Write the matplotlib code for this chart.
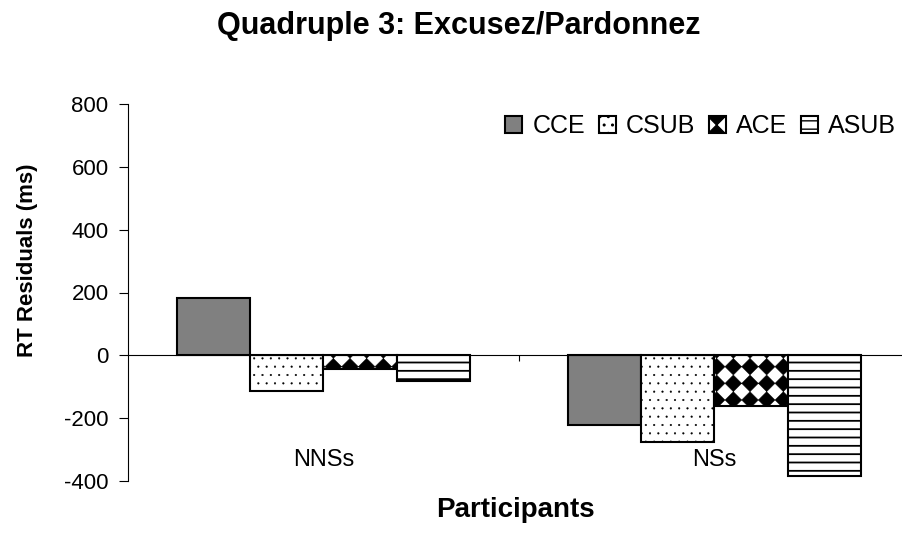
import matplotlib
matplotlib.use('Agg')
import numpy as np
import matplotlib.pyplot as plt
import matplotlib.hatch as mhatch
from matplotlib.path import Path

plt.rcParams['font.family'] = ['Liberation Sans', 'DejaVu Sans']

groups = ['NNSs', 'NSs']
conditions = ['CCE', 'CSUB', 'ACE', 'ASUB']
cce = [181, -222]
csub = [-114, -277]
ace = [-44, -161]
asub = [-83, -383]
values = dict(zip(conditions, [cce, csub, ace, asub]))

colors = {'CCE': '#808080', 'CSUB': 'white', 'ACE': 'white', 'ASUB': 'white'}
hatches = {'CCE': None, 'CSUB': '..', 'ACE': '*', 'ASUB': '--'}
hatch_lw = {'CCE': 1.0, 'CSUB': 0.3, 'ACE': 0.3, 'ASUB': 1.3}


# checkerboard of black diamonds, used in place of the star hatch
class Diamonds(mhatch.HatchPatternBase):
    def __init__(self, hatch, density):
        self.n = hatch.count('*') * density
        n = self.n
        self.num_shapes = (n + 1) ** 2 if n else 0
        self.num_vertices = self.num_shapes * 5

    def set_vertices_and_codes(self, vertices, codes):
        n = self.n
        r = 0.5 / n
        unit = np.array([[0, -r], [r, 0], [0, r], [-r, 0], [0, -r]])
        centres = [(i / n, j / n) for i in range(n + 1) for j in range(n + 1)]
        vertices[:] = np.concatenate([unit + np.array(c) for c in centres])
        codes[:] = np.tile([Path.MOVETO, Path.LINETO, Path.LINETO,
                            Path.LINETO, Path.CLOSEPOLY], len(centres))


mhatch._hatch_types[mhatch._hatch_types.index(mhatch.Stars)] = Diamonds

fig = plt.figure(figsize=(9.03, 5.38), dpi=100)
fig.set_facecolor('w')
ax = fig.add_axes([128 / 903, 1 - 481 / 538, 782 / 903, 377 / 538])

x = np.arange(len(groups))
width = 0.187
for i, c in enumerate(conditions):
    with plt.rc_context({'hatch.linewidth': hatch_lw[c], 'hatch.color': 'black'}):
        ax.bar(x + (i - 1.5) * width, values[c], width,
               color=colors[c], edgecolor='black', linewidth=1.5,
               hatch=hatches[c], label=c)

ax.set_xlim(-0.5, 1.5)
ax.set_ylim(-400, 800)
ax.set_yticks(range(-400, 801, 200))
ax.set_yticklabels([str(v) for v in range(-400, 801, 200)])
ax.tick_params(axis='y', labelsize=16, direction='out', length=6.5, width=0.8, pad=7.5)
ax.spines['top'].set_visible(False)
ax.spines['right'].set_visible(False)
ax.spines['bottom'].set_position(('data', 0))
ax.set_xticks([0.5])
ax.set_xticklabels([''])
ax.tick_params(axis='x', direction='out', length=4.5, width=0.8)

for xi, g in zip(x, groups):
    ax.text(xi, -352, g, ha='center', va='baseline', fontsize=17)

fig.text(459 / 903, 1 - 34 / 538, 'Quadruple 3: Excusez/Pardonnez',
         ha='center', va='baseline', fontsize=22, fontweight='bold')
fig.text(28 / 903, 1 - 260 / 538, 'RT Residuals (ms)', rotation=90,
         ha='center', va='center', fontsize=16, fontweight='bold')
fig.text(515 / 903, 1 - 517 / 538, 'Participants', ha='center',
         va='baseline', fontsize=20, fontweight='bold')

ax.legend(loc='center right', ncol=4, frameon=False, fontsize=18,
          handlelength=0.68, handleheight=0.68, handletextpad=0.4,
          columnspacing=0.55, borderpad=0, borderaxespad=0,
          bbox_to_anchor=(896 / 903, 1 - 126 / 538),
          bbox_transform=fig.transFigure)

fig.savefig('out.png', dpi=100)
